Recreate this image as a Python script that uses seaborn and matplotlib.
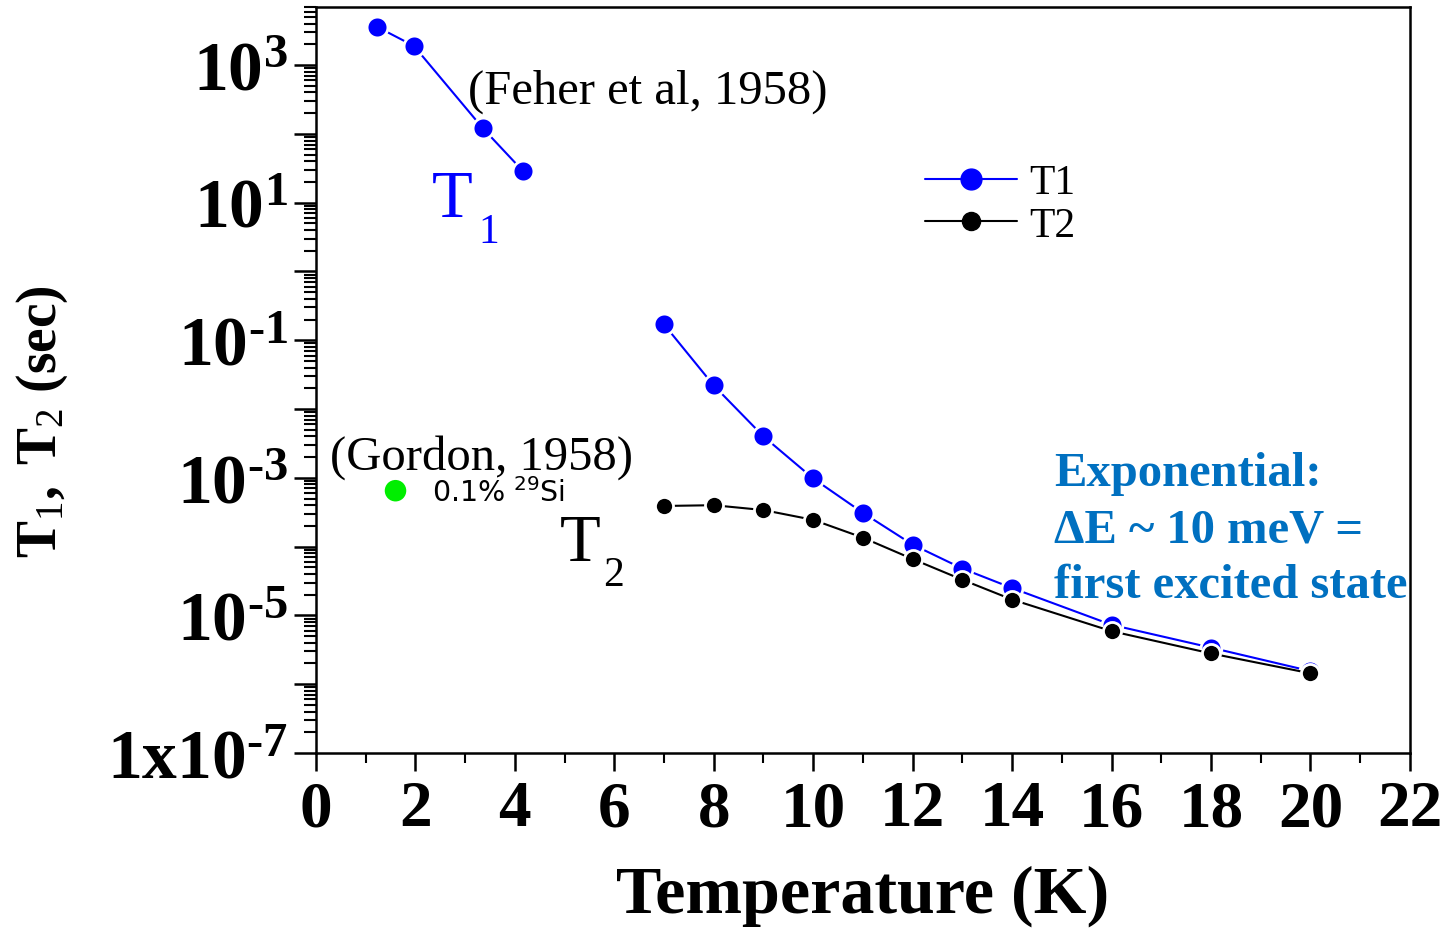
import matplotlib
matplotlib.use("Agg")
import matplotlib.pyplot as plt
import matplotlib.ticker as mticker
from matplotlib.lines import Line2D
import seaborn as sns
import pandas as pd
import numpy as np

# ---- data ----
t1_low_temp = [1.23, 1.97, 3.36, 4.16]
t1_low_val = [3600, 1900, 120, 29]
t1_temp = [7, 8, 9, 10, 11, 12, 13, 14, 16, 18, 20]
t1_val = [0.17, 0.022, 0.0040, 0.00098, 3.1e-4, 1.07e-4, 4.8e-5, 2.5e-5, 7.3e-6, 3.4e-6, 1.55e-6]
t2_temp = [7, 8, 9, 10, 11, 12, 13, 14, 16, 18, 20]
t2_val = [3.9e-4, 4.0e-4, 3.4e-4, 2.45e-4, 1.35e-4, 6.6e-5, 3.3e-5, 1.7e-5, 5.9e-6, 2.8e-6, 1.44e-6]
gordon_temp = [1.6]
gordon_val = [6.5e-4]
ytick_exps = [-7, -5, -3, -1, 1, 3]
ytick_labels = ["$\\mathbf{1x10^{\u20107}}$", "$\\mathbf{10^{\u20105}}$", "$\\mathbf{10^{\u20103}}$",
                "$\\mathbf{10^{\u20101}}$", "$\\mathbf{10^{1}}$", "$\\mathbf{10^{3}}$"]
xticks = list(range(0, 23, 2))

sns.set_style("ticks")
plt.rcParams["font.family"] = ["Liberation Serif", "DejaVu Serif"]
plt.rcParams["mathtext.fontset"] = "custom"
plt.rcParams["mathtext.rm"] = "Liberation Serif"
plt.rcParams["mathtext.it"] = "Liberation Serif:italic"
plt.rcParams["mathtext.bf"] = "Liberation Serif:bold"
for k in ["text.color", "axes.labelcolor", "xtick.color", "ytick.color", "axes.edgecolor"]:
    plt.rcParams[k] = "black"

fig = plt.figure(figsize=(14.46, 9.29), dpi=100)
ax = fig.add_axes([0.2185, 0.1884, 0.975 - 0.2185, 0.9914 - 0.1884])

df_t1a = pd.DataFrame({"T": t1_low_temp, "v": t1_low_val})
df_t1b = pd.DataFrame({"T": t1_temp, "v": t1_val})
df_t2 = pd.DataFrame({"T": t2_temp, "v": t2_val})
df_g = pd.DataFrame({"T": gordon_temp, "v": gordon_val})

common = dict(estimator=None, sort=False, marker="o", mec="white", mew=2.0, lw=1.5)
sns.lineplot(data=df_t1a, x="T", y="v", ax=ax, color="#0000ff", ms=15, **common)
sns.lineplot(data=df_t1b, x="T", y="v", ax=ax, color="#0000ff", ms=15, **common)
sns.lineplot(data=df_t2, x="T", y="v", ax=ax, color="black", ms=13, **common)
sns.scatterplot(data=df_g, x="T", y="v", ax=ax, color="#00ee00", s=240, edgecolor="none")

ax.set_yscale("log")
ax.set_xlim(0, 22)
ax.set_ylim(1e-7, 7e3)

ax.yaxis.set_major_locator(mticker.FixedLocator([10.0 ** e for e in range(-7, 4)]))
labels_map = dict(zip(ytick_exps, ytick_labels))
ax.yaxis.set_major_formatter(mticker.FuncFormatter(
    lambda v, p: labels_map.get(int(round(np.log10(v))), "")))
ax.yaxis.set_minor_locator(mticker.LogLocator(base=10, subs=np.arange(2, 10), numticks=50))
ax.yaxis.set_minor_formatter(mticker.NullFormatter())

ax.set_xticks(xticks)
ax.set_xticklabels([str(x) for x in xticks])
ax.xaxis.set_minor_locator(mticker.MultipleLocator(1))

ax.tick_params(axis="both", which="major", direction="out", width=1.8, color="black")
ax.tick_params(axis="y", which="major", length=16, labelsize=50, pad=4)
ax.tick_params(axis="y", which="minor", length=9, width=1.5)
ax.tick_params(axis="x", which="major", length=13, labelsize=47, pad=6)
ax.tick_params(axis="x", which="minor", length=7, width=1.5)
for lab in ax.get_xticklabels():
    lab.set_fontweight("bold")

for s in ax.spines.values():
    s.set_linewidth(1.8)
    s.set_color("black")

ax.set_xlabel("Temperature (K)", fontsize=49, fontweight="bold", va="top")
ax.xaxis.set_label_coords(0.5, -0.150)
ax.set_ylabel(r"$\mathbf{T}_{1}\mathbf{,\ T}_{2}$ $\mathbf{(sec)}$", fontsize=40, va="center")
ax.yaxis.set_label_coords(-0.25, 0.445)

# annotations
ax.text(3.05, 425, "(Feher et al, 1958)", fontsize=35, va="center")
ax.text(2.33, 11, "T", fontsize=48, color="#0000ff", va="center")
ax.text(3.26, 3.8, "1", fontsize=30, color="#0000ff", va="center")
ax.text(0.28, 2.05e-3, "(Gordon, 1958)", fontsize=35, va="center")
ax.text(2.33, 6.2e-4, r"0.1% $^{29}$Si", fontsize=20.5, va="center",
        family="DejaVu Sans", math_fontfamily="dejavusans")
ax.text(4.91, 1.1e-4, "T", fontsize=48, va="center")
ax.text(5.77, 3.9e-5, "2", fontsize=30, va="center")
ax.text(14.85, 1.8e-4, "Exponential:\n\u0394E ~ 10 meV =\nfirst excited state",
        fontsize=35, fontweight="bold", color="#0070c0", va="center", linespacing=1.36)

handles = [Line2D([], [], color="#0000ff", marker="o", ms=15, lw=1.5),
           Line2D([], [], color="black", marker="o", ms=13, lw=1.5)]
ax.legend(handles, ["T1", "T2"], loc="upper left", bbox_to_anchor=(0.557, 0.79),
          borderaxespad=0, borderpad=0, frameon=False, fontsize=30,
          handlelength=2.2, handletextpad=0.3, labelspacing=0.1)

fig.savefig("out.png", dpi=100)
